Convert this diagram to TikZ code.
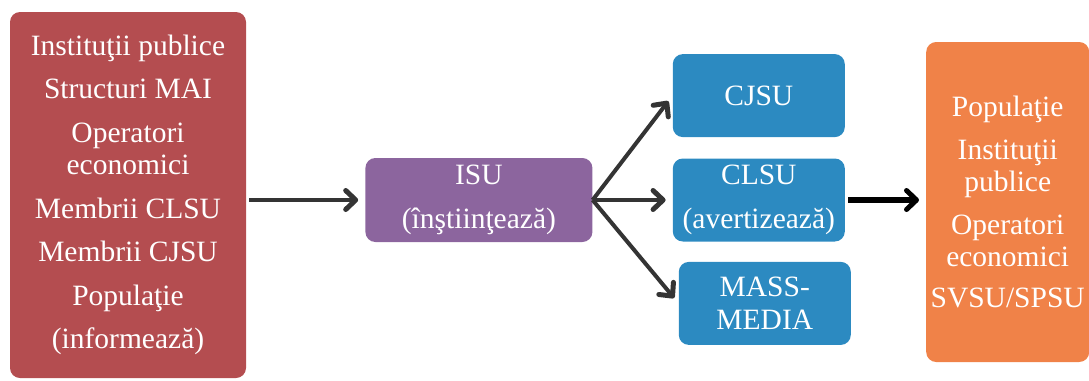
\documentclass[tikz,border=0pt]{standalone}
\usepackage{fontspec}
\setmainfont{Liberation Serif}
\usepackage{tikz}
\usetikzlibrary{arrows.meta,positioning}
\definecolor{rosu}{RGB}{180,77,80}
\definecolor{mov}{RGB}{140,101,158}
\definecolor{albastru}{RGB}{44,138,193}
\definecolor{portocaliu}{RGB}{240,130,72}
\definecolor{gri}{RGB}{52,52,52}
\tikzset{
    caseta/.style={rectangle,rounded corners=10pt,draw=none,text=white,align=center,inner sep=0pt,node font=\fontsize{29.5}{32.5}\selectfont},
    casetarosie/.style={caseta,fill=rosu,minimum width=236pt,minimum height=366pt},
    casetamov/.style={caseta,fill=mov,minimum width=227pt,minimum height=84pt},
    casetaalbastra/.style={caseta,fill=albastru,minimum width=172pt,minimum height=83pt},
    casetaportocalie/.style={caseta,fill=portocaliu,minimum width=163pt,minimum height=320pt},
    sageata/.style={draw=gri,line width=4pt,shorten >=7pt,shorten <=3pt,-{Straight Barb[length=10pt,width=19pt,line width=5pt,round]}},
    sageatagroasa/.style={sageata,draw=black,line width=6pt},
}
\begin{document}
\begin{tikzpicture}[x=1pt,y=-1pt]
    \useasboundingbox (0,0) rectangle (1089,380);
    \node [casetarosie] (surse) at (128,195) {Instituţii publice\\[11pt]Structuri MAI\\[11pt]Operatori\\economici\\[11pt]Membrii CLSU\\[11pt]Membrii CJSU\\[11pt]Populaţie\\[11pt](informează)};
    \node [right=119pt of surse,yshift=-5pt,casetamov] (isu) {ISU\\[12pt](înştiinţează)};
    \node [right=80pt of isu,casetaalbastra] (clsu) {CLSU\\[12pt](avertizează)};
    \node [above=21pt of clsu,casetaalbastra] (cjsu) {CJSU};
    \node [below=20pt of clsu,xshift=6pt,casetaalbastra] (massmedia) {MASS-\\MEDIA};
    \node [right=81pt of clsu,yshift=-2pt,casetaportocalie] (populatie) {Populaţie\\[10pt]Instituţii\\publice\\[10pt]Operatori\\economici\\[8pt]SVSU/SPSU};
    \path [sageata] (surse.east |- isu.west) -- (isu.west);
    \path [sageata,shorten <=0pt] (isu.east) -- (cjsu.west);
    \path [sageata,shorten <=0pt] (isu.east) -- (clsu.west);
    \path [sageata,shorten <=0pt] (isu.east) -- (massmedia.west);
    \path [sageatagroasa] (clsu.east) -- (clsu.east -| populatie.west);
\end{tikzpicture}
\end{document}
